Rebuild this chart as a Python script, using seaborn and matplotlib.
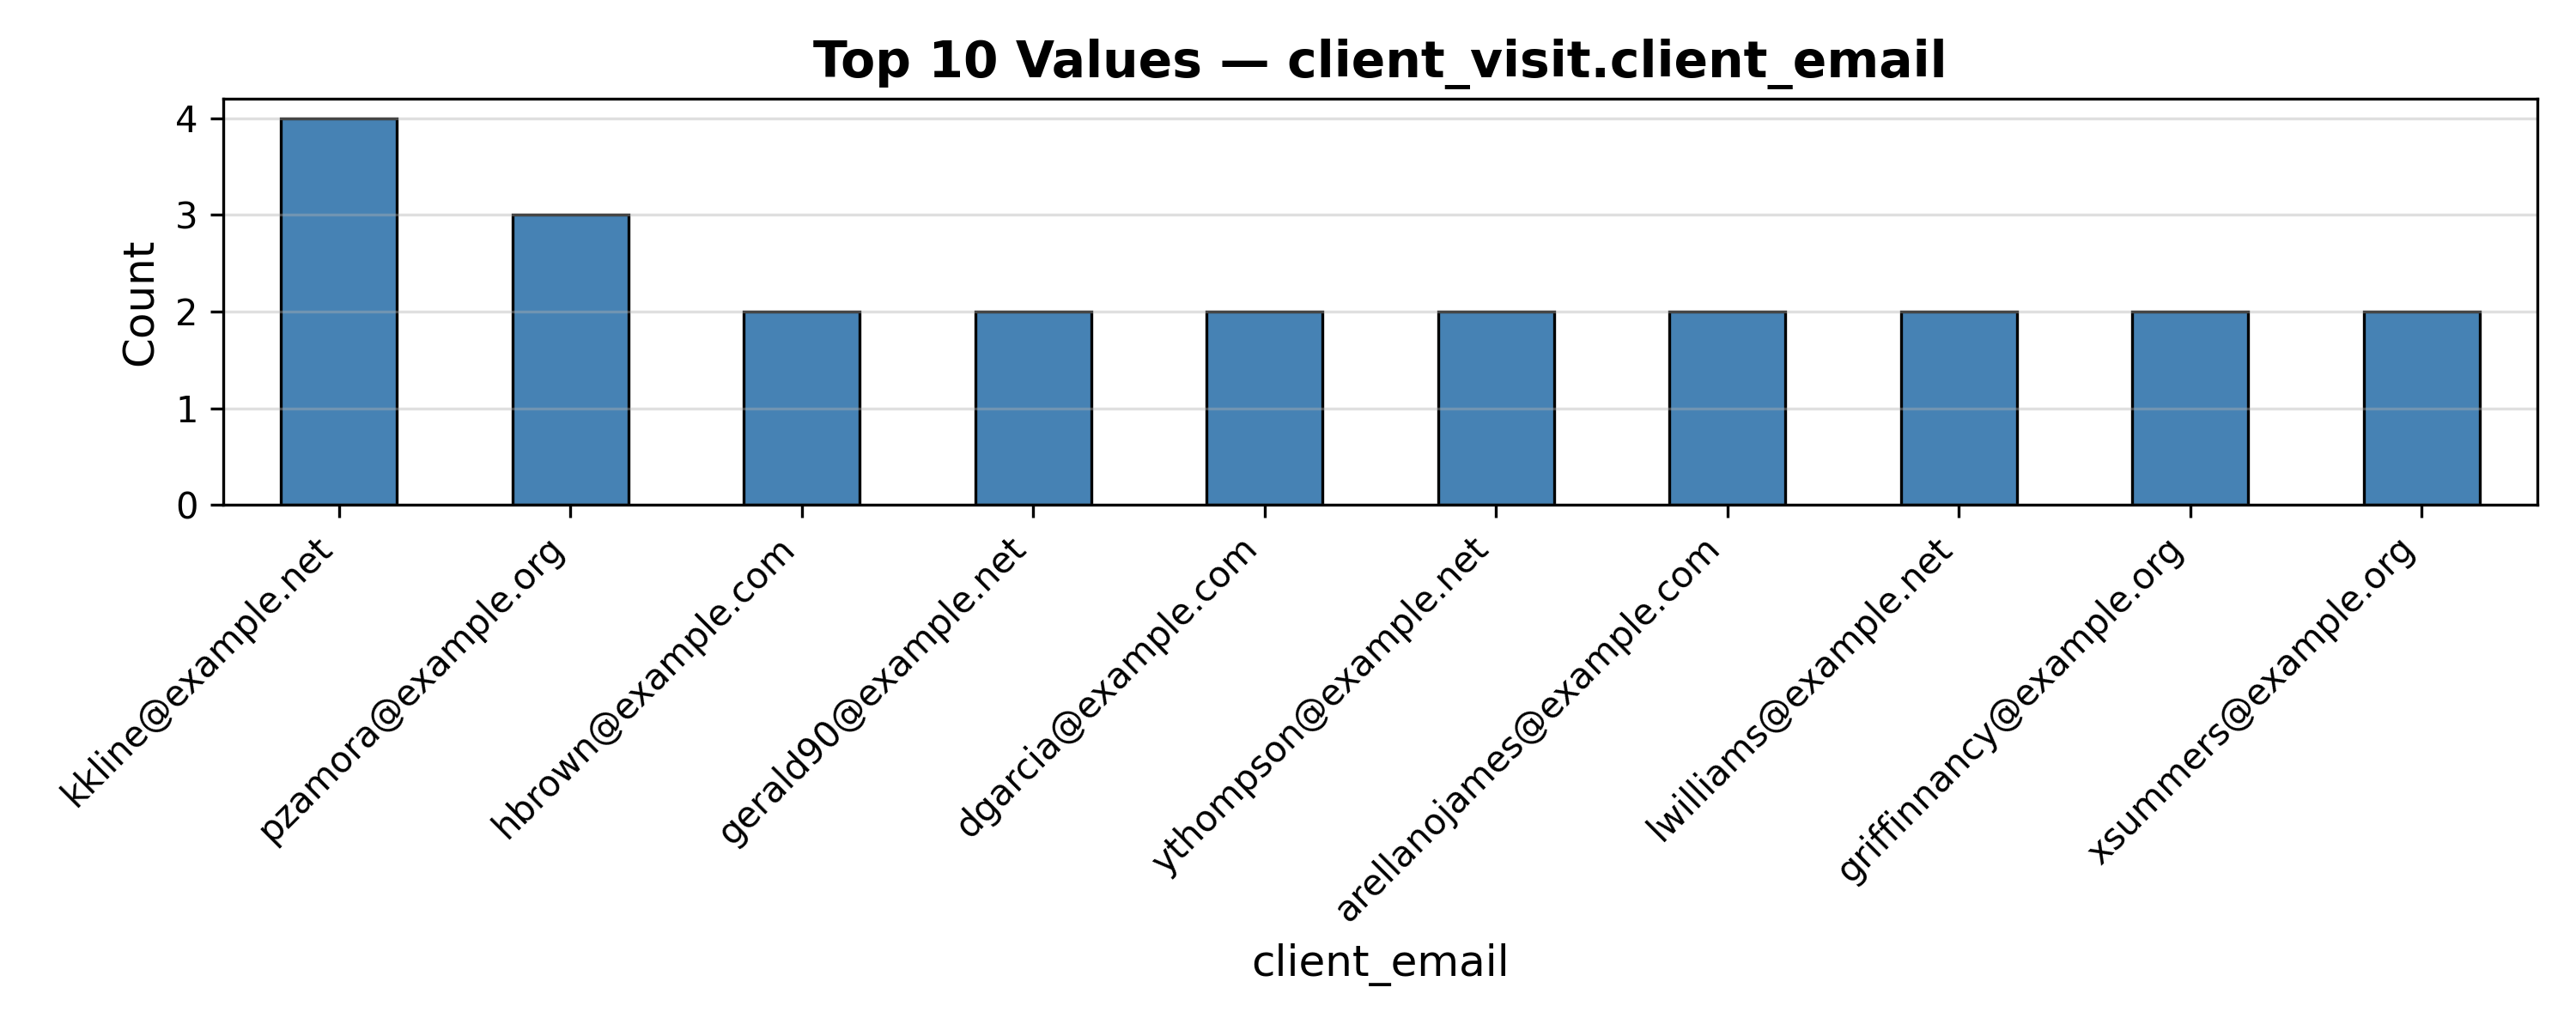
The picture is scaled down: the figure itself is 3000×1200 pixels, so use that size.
import numpy as np
import pandas as pd
import matplotlib
matplotlib.use("Agg")
import matplotlib.pyplot as plt
import seaborn as sns

# Top 10 values of client_visit.client_email
emails = [
    "kkline@example.net",
    "pzamora@example.org",
    "hbrown@example.com",
    "gerald90@example.net",
    "dgarcia@example.com",
    "ythompson@example.net",
    "arellanojames@example.com",
    "lwilliams@example.net",
    "griffinnancy@example.org",
    "xsummers@example.org",
]
counts = [4, 3, 2, 2, 2, 2, 2, 2, 2, 2]

df = pd.DataFrame({"client_email": emails, "Count": counts})

plt.rcParams["font.family"] = ["DejaVu Sans"]

fig, ax = plt.subplots(figsize=(10, 4))
sns.barplot(data=df, x="client_email", y="Count", color="steelblue",
            edgecolor="black", linewidth=0.8, width=0.5, saturation=1, ax=ax)

ax.set_title("Top 10 Values \u2014 client_visit.client_email", fontsize=14, fontweight="bold")
ax.set_xlabel("client_email", fontsize=12)
ax.set_ylabel("Count", fontsize=12)
ax.set_xlim(-0.5, len(emails) - 0.5)
ax.set_yticks(np.arange(0, 5, 1))
ax.set_ylim(0, 4.2)
plt.setp(ax.get_xticklabels(), rotation=45, ha="right")
ax.yaxis.grid(True, alpha=0.4)
ax.set_axisbelow("line")

plt.tight_layout()
plt.savefig("out.png", dpi=300)
